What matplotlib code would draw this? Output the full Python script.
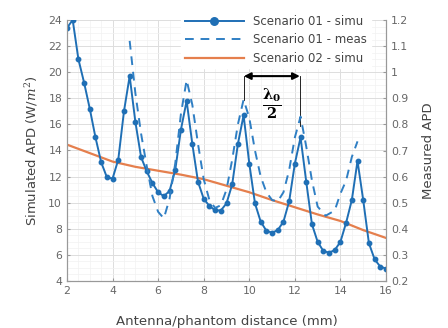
import numpy as np
import matplotlib.pyplot as plt
from matplotlib.ticker import MultipleLocator

### DATOS ###
# Scenario 01 - simu (eje izquierdo, W/m2), paso de 0.25 mm
dist_simu = np.arange(2.0, 16.01, 0.25)
apd_simu = [23.4, 24.0, 21.0, 19.2, 17.2, 15.0, 13.1, 11.95, 11.85, 13.3,
            17.0, 19.7, 16.2, 13.5, 12.4, 11.5, 10.8, 10.5, 10.9, 12.5,
            15.6, 17.8, 14.5, 11.6, 10.3, 9.75, 9.42, 9.4, 9.95, 11.4,
            14.5, 16.7, 13.0, 9.95, 8.55, 7.85, 7.7, 7.9, 8.55, 10.1,
            13.0, 15.0, 11.6, 8.35, 7.0, 6.3, 6.17, 6.37, 7.0, 8.47,
            10.2, 13.2, 10.2, 6.9, 5.66, 5.1, 4.95]

# Scenario 01 - meas (eje derecho)
dist_meas = [4.75, 5.0, 5.25, 5.5, 5.75, 6.0, 6.25, 6.5, 6.75, 7.0,
             7.25, 7.5, 7.75, 8.0, 8.25, 8.5, 8.75, 9.0, 9.25, 9.5,
             9.75, 10.0, 10.25, 10.5, 10.75, 11.0, 11.25, 11.5, 11.75, 12.0,
             12.25, 12.5, 12.75, 13.0, 13.35, 13.75, 14.0, 14.25, 14.5, 14.75]
apd_meas = [1.12, 0.92, 0.765, 0.64, 0.525, 0.465, 0.44, 0.515, 0.65, 0.84,
            0.97, 0.875, 0.725, 0.59, 0.51, 0.48, 0.49, 0.55, 0.665, 0.80,
            0.895, 0.825, 0.70, 0.60, 0.54, 0.51, 0.505, 0.54, 0.625, 0.75,
            0.83, 0.715, 0.585, 0.485, 0.45, 0.47, 0.535, 0.585, 0.675, 0.735]

# Scenario 02 - simu (eje izquierdo)
dist_s2 = [2, 3, 4, 5, 6, 7, 8, 9, 10, 11, 12, 13, 14, 15, 16]
apd_s2 = [14.45, 13.8, 13.15, 12.75, 12.45, 12.15, 11.8, 11.3, 10.8, 10.2,
          9.65, 9.1, 8.6, 7.9, 7.3]

azul = '#1f6fb5'
naranja = '#e57f4d'
gris = '#666666'

plt.rcParams['font.family'] = 'DejaVu Sans'
plt.rcParams['mathtext.fontset'] = 'dejavuserif'

fig = plt.figure(figsize=(4.48, 3.28), dpi=100)
ax = fig.add_axes([67/448, 47/328, 319/448, 261/328])
ax2 = ax.twinx()

l1, = ax.plot(dist_simu, apd_simu, '-o', color=azul, lw=1.4, ms=3.2, zorder=3)
l3, = ax.plot(dist_s2, apd_s2, '-', color=naranja, lw=1.6, zorder=2)
l2, = ax2.plot(dist_meas, apd_meas, '--', color='#2f7fc4', lw=1.4,
               dashes=(4.5, 3.5), zorder=3)

ax.set_xlim(2, 16)
ax.set_ylim(4, 24)
ax2.set_ylim(0.2, 1.2)
ax.set_xticks(range(2, 17, 2))
ax.set_yticks(range(4, 25, 2))
ax.xaxis.set_minor_locator(MultipleLocator(0.5))
ax.yaxis.set_minor_locator(MultipleLocator(0.5))
ticks_der = [0.2, 0.3, 0.4, 0.5, 0.6, 0.7, 0.8, 0.9, 1.0, 1.1, 1.2]
ax2.set_yticks(ticks_der)
ax2.set_yticklabels(['0.2', '0.3', '0.4', '0.5', '0.6', '0.7', '0.8', '0.9',
                     '1', '1.1', '1.2'])

ax.grid(True, which='major', color='#dddddd', lw=0.7)
ax.grid(True, which='minor', color='#f2f2f2', lw=0.5)
ax.set_axisbelow(True)

for a in [ax, ax2]:
    a.spines['top'].set_visible(False)
    for s in ['left', 'right', 'bottom']:
        a.spines[s].set_color('#999999')
        a.spines[s].set_linewidth(0.8)
    a.tick_params(which='both', direction='in', colors='#999999',
                  labelcolor=gris, labelsize=7.8, length=2.5)
    a.tick_params(which='minor', length=0)

ax.set_xlabel('Antenna/phantom distance (mm)', fontsize=9.5, color='#444444',
              labelpad=14)
ax.set_ylabel('Simulated APD (W/$m^2$)', fontsize=9.5, color='#444444', labelpad=6)
ax2.set_ylabel('Measured APD', fontsize=9.5, color='#444444', labelpad=10)

# anotacion lambda/2
ax.annotate('', xy=(9.76, 19.7), xytext=(12.22, 19.7),
            arrowprops=dict(arrowstyle='<|-|>', color='black', lw=1.5,
                            mutation_scale=10, shrinkA=0, shrinkB=0),
            zorder=5)
ax.plot([9.76, 9.76], [19.7, 17.9], color='black', lw=0.6, zorder=5)
ax.plot([12.22, 12.22], [19.7, 15.9], color='black', lw=0.6, zorder=5)
ax.text(11.0, 17.6, r'$\mathbf{\frac{\lambda_0}{2}}$', fontsize=15,
        ha='center', va='center', zorder=5)

leg = ax2.legend([l1, l2, l3],
                 ['Scenario 01 - simu', 'Scenario 01 - meas', 'Scenario 02 - simu'],
                 loc='upper left', bbox_to_anchor=(0.34, 1.055), fontsize=8.5,
                 handlelength=5.0, labelspacing=0.45, borderpad=0.3,
                 handletextpad=0.8, frameon=True, fancybox=False,
                 markerscale=1.7)
leg.get_frame().set_facecolor('white')
leg.get_frame().set_edgecolor('white')
leg.get_frame().set_alpha(1)
for t in leg.get_texts():
    t.set_color('#444444')

fig.savefig('out.png', dpi=100)
